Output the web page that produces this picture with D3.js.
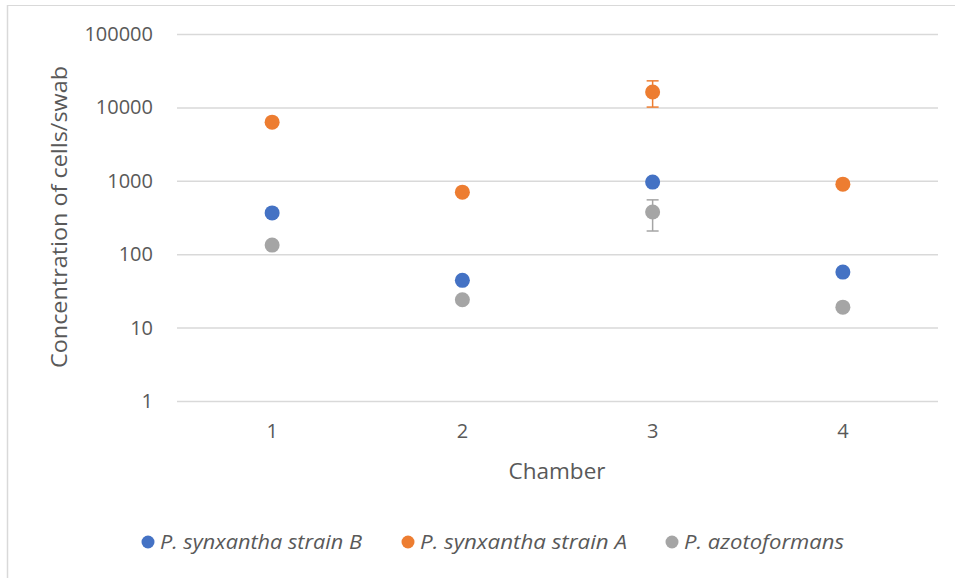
<!DOCTYPE html>
<html>
<head>
<meta charset="utf-8">
<script src="https://cdn.jsdelivr.net/npm/d3@7"></script>
<style>
  html, body { margin: 0; padding: 0; background: #fff; }
  svg { display: block; font-family: "Open Sans", "Noto Sans", sans-serif; }
</style>
</head>
<body>
<svg id="chart" width="955" height="578"></svg>
<script>
// Chambers on the x axis
const chambers = ["1", "2", "3", "4"];

// Series names and colours
const seriesNames = ["P. synxantha strain B", "P. synxantha strain A", "P. azotoformans"];
const seriesColors = ["#4472C4", "#ED7D31", "#A5A5A5"];

// Concentration of cells/swab per chamber
const strainB = [365, 44, 960, 57];
const strainA = [6300, 700, 16200, 900];
const azotoformans = [133, 24, 376, 19];

// Error bars (low, high) where shown; null where absent
const strainBErr = [null, null, null, null];
const strainAErr = [null, null, [10100, 23000], null];
const azotoformansErr = [null, null, [207, 550], null];

// Y axis tick labels
const yTicks = [1, 10, 100, 1000, 10000, 100000];

const series = [
  { name: seriesNames[0], color: seriesColors[0], values: strainB, err: strainBErr },
  { name: seriesNames[1], color: seriesColors[1], values: strainA, err: strainAErr },
  { name: seriesNames[2], color: seriesColors[2], values: azotoformans, err: azotoformansErr }
];

const svg = d3.select("#chart");
const W = 955, H = 578;
const plot = { left: 177, right: 938, top: 34, bottom: 401 };
const textColor = "#595959";

// Chart frame (top and left edges)
svg.append("line").attr("x1", 7).attr("x2", W).attr("y1", 5.5).attr("y2", 5.5)
  .attr("stroke", "#d9d9d9").attr("stroke-width", 1);
svg.append("line").attr("x1", 7.5).attr("x2", 7.5).attr("y1", 5).attr("y2", H)
  .attr("stroke", "#d9d9d9").attr("stroke-width", 1.5);

const x = d3.scaleBand().domain(chambers).range([plot.left, plot.right]);
const y = d3.scaleLog().domain([1, 100000]).range([plot.bottom, plot.top]);

// Gridlines and y labels
const yAxis = d3.axisLeft(y).tickValues(yTicks).tickFormat(d3.format("d"))
  .tickSize(-(plot.right - plot.left)).tickPadding(24);
const gy = svg.append("g").attr("transform", `translate(${plot.left},0)`).call(yAxis);
gy.select(".domain").remove();
gy.selectAll(".tick line").attr("stroke", "#d9d9d9").attr("stroke-width", 1.5);
gy.selectAll(".tick text").attr("fill", textColor).style("font-size", "20px")
  .style("font-family", "'Open Sans', sans-serif");

// X labels
const xAxis = d3.axisBottom(x).tickSize(0).tickPadding(23);
const gx = svg.append("g").attr("transform", `translate(0,${plot.bottom})`).call(xAxis);
gx.select(".domain").remove();
gx.selectAll(".tick text").attr("fill", textColor).style("font-size", "20px")
  .style("font-family", "'Open Sans', sans-serif");

// Axis titles
svg.append("text")
  .attr("transform", `translate(67,217) rotate(-90)`)
  .attr("text-anchor", "middle")
  .attr("fill", textColor).style("font-size", "22px")
  .attr("textLength", 302).attr("lengthAdjust", "spacingAndGlyphs")
  .text("Concentration of cells/swab");
svg.append("text")
  .attr("x", 557).attr("y", 479)
  .attr("text-anchor", "middle")
  .attr("fill", textColor).style("font-size", "22px")
  .attr("textLength", 97).attr("lengthAdjust", "spacingAndGlyphs")
  .text("Chamber");

// Error bars
series.forEach(s => {
  const g = svg.append("g");
  s.err.forEach((e, i) => {
    if (!e) return;
    const cx = x(chambers[i]) + x.bandwidth() / 2;
    g.append("line").attr("x1", cx).attr("x2", cx).attr("y1", y(e[0])).attr("y2", y(e[1]))
      .attr("stroke", s.color).attr("stroke-width", 1.5);
    [e[0], e[1]].forEach(v => {
      g.append("line").attr("x1", cx - 6).attr("x2", cx + 6).attr("y1", y(v)).attr("y2", y(v))
        .attr("stroke", s.color).attr("stroke-width", 1.5);
    });
  });
});

// Points
series.forEach(s => {
  svg.append("g").selectAll("circle").data(s.values).join("circle")
    .attr("cx", (d, i) => x(chambers[i]) + x.bandwidth() / 2)
    .attr("cy", d => y(d))
    .attr("r", 7.5)
    .attr("fill", s.color);
});

// Legend
const legendX = [148, 408, 672];
const legendW = [202, 207, 160];
const legend = svg.append("g");
series.forEach((s, i) => {
  legend.append("circle").attr("cx", legendX[i]).attr("cy", 542).attr("r", 6.5).attr("fill", s.color);
  legend.append("text").attr("x", legendX[i] + 12).attr("y", 549)
    .attr("fill", textColor).style("font-size", "20px").style("font-style", "italic")
    .attr("textLength", legendW[i]).attr("lengthAdjust", "spacingAndGlyphs")
    .text(s.name);
});
</script>
</body>
</html>
